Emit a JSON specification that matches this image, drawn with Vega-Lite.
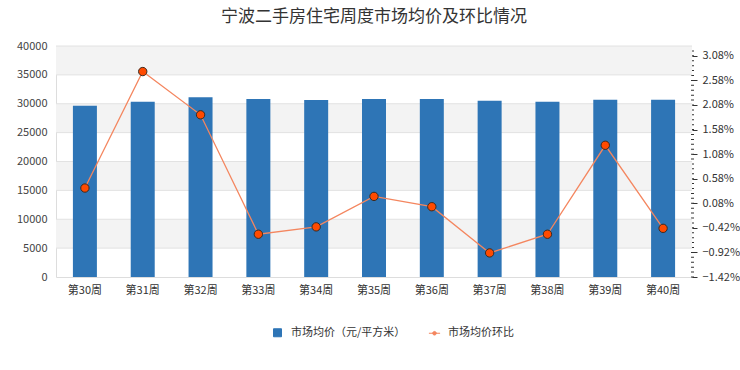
{
  "$schema": "https://vega.github.io/schema/vega-lite/v6.json",
  "width": 636,
  "height": 231,
  "autosize": {"type": "none"},
  "padding": {"left": 56, "top": 46, "right": 48, "bottom": 93},
  "background": "white",
  "title": {
    "text": "宁波二手房住宅周度市场均价及环比情况",
    "fontSize": 17,
    "fontWeight": "normal",
    "color": "#333",
    "font": "Noto Sans CJK SC",
    "anchor": "middle",
    "offset": 14
  },
  "data": {
    "values": [
      {"week": "第30周", "price": 29650, "ratio": 0.39},
      {"week": "第31周", "price": 30360, "ratio": 2.76},
      {"week": "第32周", "price": 31120, "ratio": 1.88},
      {"week": "第33周", "price": 30830, "ratio": -0.55},
      {"week": "第34周", "price": 30650, "ratio": -0.40},
      {"week": "第35周", "price": 30830, "ratio": 0.22},
      {"week": "第36周", "price": 30830, "ratio": 0.01},
      {"week": "第37周", "price": 30540, "ratio": -0.93},
      {"week": "第38周", "price": 30360, "ratio": -0.55},
      {"week": "第39周", "price": 30710, "ratio": 1.26},
      {"week": "第40周", "price": 30710, "ratio": -0.43}
    ]
  },
  "layer": [
    {
      "layer": [
        {
          "data": {"values": [
            {"lo": 5000, "hi": 10000},
            {"lo": 15000, "hi": 20000},
            {"lo": 25000, "hi": 30000},
            {"lo": 35000, "hi": 40000}
          ]},
          "mark": {"type": "rect", "color": "#f3f3f3"},
          "encoding": {
            "y": {
              "field": "lo", "type": "quantitative", "scale": {"domain": [0, 40000], "nice": false},
              "axis": {"title": null, "values": [0, 5000, 10000, 15000, 20000, 25000, 30000, 35000, 40000], "format": "d", "labelOverlap": false, "labelSeparation": 0, "ticks": false, "grid": false, "domainColor": "#dddddd", "labelPadding": 9, "labelColor": "#444", "labelFontSize": 11, "labelFont": "Noto Sans CJK SC"}
            },
            "y2": {"field": "hi"}
          }
        },
        {
          "data": {"values": [
            {"lo": 5000, "hi": 10000},
            {"lo": 15000, "hi": 20000},
            {"lo": 25000, "hi": 30000},
            {"lo": 35000, "hi": 40000}
          ]},
          "mark": {"type": "rule", "color": "#e2e2e2", "strokeWidth": 1},
          "encoding": {
            "y": {"field": "lo", "type": "quantitative"}
          }
        },
        {
          "data": {"values": [
            {"lo": 5000, "hi": 10000},
            {"lo": 15000, "hi": 20000},
            {"lo": 25000, "hi": 30000},
            {"lo": 35000, "hi": 40000}
          ]},
          "mark": {"type": "rule", "color": "#e2e2e2", "strokeWidth": 1},
          "encoding": {
            "y": {"field": "hi", "type": "quantitative"}
          }
        },
        {
          "mark": {"type": "bar"},
          "encoding": {
            "x": {
              "field": "week", "type": "ordinal", "sort": null,
              "scale": {"paddingInner": 0.585, "paddingOuter": 0.2925},
              "axis": {"title": null, "labelAngle": 0, "ticks": false, "labelPadding": 7, "domainColor": "#dddddd", "labelColor": "#333", "labelFontSize": 11, "labelFont": "Noto Sans CJK SC", "grid": false}
            },
            "y": {
              "field": "price", "type": "quantitative",
              "scale": {"domain": [0, 40000], "nice": false}
            },
            "color": {
              "datum": "市场均价（元/平方米）", "type": "nominal",
              "legend": {
                "title": null,
                "orient": "none",
                "legendX": 216,
                "legendY": 281,
                "direction": "horizontal",
                "labelFontSize": 11,
                "labelColor": "#333",
                "labelFont": "Noto Sans CJK SC",
                "columnPadding": 20,
                "labelOffset": 8,
                "symbolSize": 64,
                "encode": {
                  "symbols": {
                    "update": {
                      "shape": {"signal": "datum.value === '市场均价环比' ? 'M-1.4,0L1.4,0M-0.45,0A0.45,0.45,0,1,1,0.45,0A0.45,0.45,0,1,1,-0.45,0Z' : 'square'"},
                      "fill": {"signal": "datum.value === '市场均价环比' ? '#ff4a00' : '#2e75b6'"},
                      "stroke": {"signal": "datum.value === '市场均价环比' ? '#f4865f' : '#2e75b6'"},
                      "strokeWidth": {"value": 1},
                      "opacity": {"value": 1}
                    }
                  }
                }
              }
            }
          }
        }
      ]
    },
    {
      "layer": [
        {
          "mark": {"type": "line", "strokeWidth": 1.3},
          "encoding": {
            "x": {"field": "week", "type": "ordinal", "sort": null},
            "y": {
              "field": "ratio", "type": "quantitative",
              "scale": {"domain": [-1.42, 3.28], "nice": false, "zero": false},
              "axis": {
                "orient": "right", "title": null,
                "values": [-1.42, -0.92, -0.42, 0.08, 0.58, 1.08, 1.58, 2.08, 2.58, 3.08],
                "labelExpr": "format(datum.value, '.2f') + '%'",
                "labelOverlap": false,
                "labelSeparation": 0,
                "tickSize": 5, "tickColor": "#333", "grid": false,
                "domain": true, "domainColor": "#333", "domainWidth": 3, "domainDash": [1, 3.915],
                "labelPadding": 5, "labelColor": "#333", "labelFontSize": 11, "labelFont": "Noto Sans CJK SC"
              }
            },
            "color": {"datum": "市场均价环比", "type": "nominal"}
          }
        },
        {
          "mark": {"type": "point", "filled": true, "fill": "#ff4a00", "stroke": "#3a2a20", "strokeWidth": 1, "size": 70, "opacity": 1},
          "encoding": {
            "x": {"field": "week", "type": "ordinal", "sort": null},
            "y": {"field": "ratio", "type": "quantitative"}
          }
        }
      ]
    }
  ],
  "resolve": {"scale": {"y": "independent"}},
  "config": {
    "view": {"stroke": null},
    "font": "Noto Sans CJK SC",
    "axis": {"labelOverlap": false},
    "axisY": {"labelOverlap": false},
    "axisQuantitative": {"labelOverlap": false, "tickCount": 10},
    "range": {"category": ["#2e75b6", "#f4865f"]}
  }
}
